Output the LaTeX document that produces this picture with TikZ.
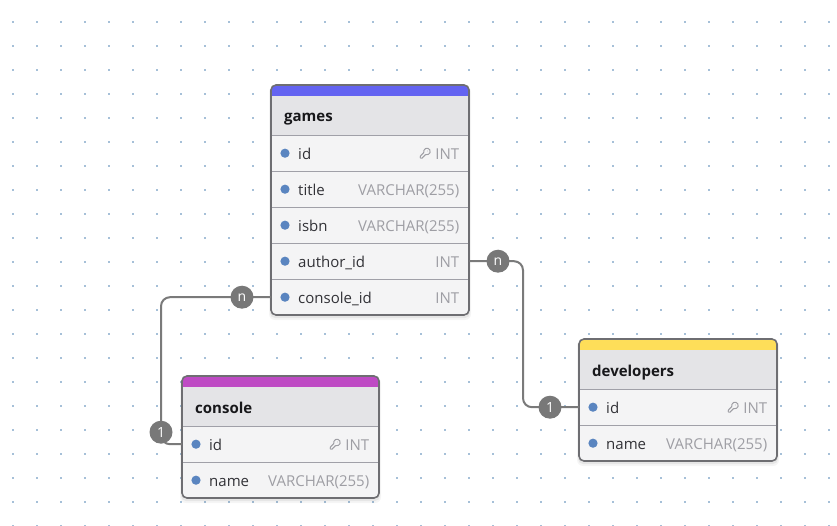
\documentclass[tikz,border=0pt]{standalone}
\usepackage{fontspec}
\setmainfont{Open Sans}
\usetikzlibrary{calc}
\definecolor{griddot}{RGB}{166,192,216}
\definecolor{rowfill}{RGB}{244,244,245}
\definecolor{hdrfill}{RGB}{228,228,231}
\definecolor{borderc}{RGB}{110,110,114}
\definecolor{sepc}{RGB}{160,160,168}
\definecolor{dotblue}{RGB}{90,133,192}
\definecolor{namec}{RGB}{50,50,55}
\definecolor{typec}{RGB}{158,158,164}
\definecolor{titlec}{RGB}{24,24,27}
\definecolor{connc}{RGB}{122,122,122}
\definecolor{cardc}{RGB}{120,120,120}
\definecolor{gamesbar}{RGB}{99,99,241}
\definecolor{consolebar}{RGB}{190,74,196}
\definecolor{devbar}{RGB}{254,222,89}
\tikzset{
  rowbox/.style={inner sep=0pt, minimum height=36pt, draw=none},
  hdrbox/.style={inner sep=0pt, minimum height=39pt, fill=hdrfill},
  titletext/.style={inner sep=0pt, text=titlec, font=\fontsize{15}{18}\selectfont\bfseries},
  fieldtext/.style={inner sep=0pt, text=namec, font=\fontsize{15}{18}\selectfont},
  typetext/.style={inner sep=0pt, text=typec, font=\fontsize{15}{18}\selectfont},
  sepline/.style={draw=sepc, line width=0.9pt},
  frameline/.style={draw=borderc, line width=1.6pt, rounded corners=5pt},
  conn/.style={draw=connc, line width=2pt, rounded corners=9pt},
  card/.style={circle, fill=cardc, inner sep=0pt, minimum size=23pt, text=white, font=\fontsize{14}{16}\selectfont},
  keyic/.pic={
    \begin{scope}[scale=0.5]
    \draw[typec, line width=1pt, line join=round, rounded corners=0.4pt]
      (2.586,17.414) -- (2,18.828) -- (2,21) -- (3,22) -- (6,22) -- (7,21) -- (7,20)
      -- (8,19) -- (9,19) -- (10,18) -- (10,17) -- (11,16) -- (11.172,16)
      -- (12.586,15.414) -- (13.4,14.6) arc[start angle=109.2, end angle=-199.2, radius=6.5]
      -- cycle;
    \fill[typec] (16.5,7.5) circle (0.7pt);
    \end{scope}
  }
}
% #1 name, #2 L, #3 T, #4 W, #5 H, #6 bar colour, #7 title
\newcommand\ertable[7]{%
  \fill[black, opacity=0.04, rounded corners=6pt] (#2-2,#3+1) rectangle (#2+#4+2,#3+#5+5);
  \fill[black, opacity=0.06, rounded corners=5pt] (#2-1,#3+1) rectangle (#2+#4+1,#3+#5+3);
  \begin{scope}
    \clip[rounded corners=5pt] (#2,#3) rectangle (#2+#4,#3+#5);
    \fill[rowfill] (#2,#3) rectangle (#2+#4,#3+#5);
    \fill[#6] (#2,#3) rectangle (#2+#4,#3+11);
    \node[hdrbox, anchor=north west, minimum width=#4pt] (#1) at (#2,#3+11) {};
  \end{scope}
  \node[titletext, anchor=base west] (#1-title) at (#2+13,#3+37) {#7};
}
% #1 name, #2 L, #3 T, #4 W, #5 field, #6 type
\newcommand\errow[6]{%
  \node[rowbox, anchor=north west, minimum width=#4pt] (#1) at (#2,#3) {};
  \draw[sepline] (#1.north west) -- (#1.north east);
  \fill[dotblue] ([xshift=14pt]#1.west) circle (4.6pt);
  \node[fieldtext, anchor=base west] (#1-f) at ([xshift=27pt,yshift=-6.5pt]#1.west) {#5};
  \node[typetext, anchor=base east] (#1-t) at ([xshift=-10pt,yshift=-6.5pt]#1.east) {#6};
}
\newcommand\errowkey[5]{%
  \errow{#1}{#2}{#3}{#4}{#5}{INT}
  \pic at ([xshift=-16pt,yshift=6pt]#1-t.west |- #1.center) {keyic};
}
\begin{document}
\begin{tikzpicture}[x=1pt,y=-1pt]
\useasboundingbox (0,0) rectangle (837,526);
\fill[white] (0,0) rectangle (837,526);
% dotted grid
\foreach \i in {0,...,34} {
  \foreach \j in {0,...,21} {
    \fill[griddot] (12+24*\i,21+24*\j) rectangle (14+24*\i,23+24*\j);
  }
}
% games
\ertable{games}{271}{85}{198}{230}{gamesbar}{games}
\errowkey{g1}{271}{135}{198}{id}
\errow{g2}{271}{171}{198}{title}{VARCHAR(255)}
\errow{g3}{271}{207}{198}{isbn}{VARCHAR(255)}
\errow{g4}{271}{243}{198}{author\_id}{INT}
\errow{g5}{271}{279}{198}{console\_id}{INT}
\draw[frameline] (271,85) rectangle (469,315);
% console
\ertable{console}{182}{376}{197}{122}{consolebar}{console}
\errowkey{c1}{182}{426}{197}{id}
\errow{c2}{182}{462}{197}{name}{VARCHAR(255)}
\draw[frameline] (182,376) rectangle (379,498);
% developers
\ertable{developers}{579}{339}{198}{122}{devbar}{developers}
\errowkey{d1}{579}{389}{198}{id}
\errow{d2}{579}{425}{198}{name}{VARCHAR(255)}
\draw[frameline] (579,339) rectangle (777,461);
% connector anchors
\coordinate (lx) at (161,0);
\coordinate (rx) at (523,0);
\coordinate (n1pos) at (242,0);
\coordinate (n2pos) at (498,0);
\coordinate (o2pos) at (550,0);
% connectors
\draw[conn] (g5.west) -- (g5.west -| lx) -- (lx |- c1.west) -- (c1.west);
\draw[conn] (g4.east) -- (g4.east -| rx) -- (rx |- d1.west) -- (d1.west);
% cardinality labels
\node[card] (n1) at (g5.west -| n1pos) {n};
\node[card] (o1) at ($(lx |- c1.west)+(0,-12)$) {1};
\node[card] (n2) at (g4.east -| n2pos) {n};
\node[card] (o2) at (d1.west -| o2pos) {1};
\end{tikzpicture}
\end{document}
